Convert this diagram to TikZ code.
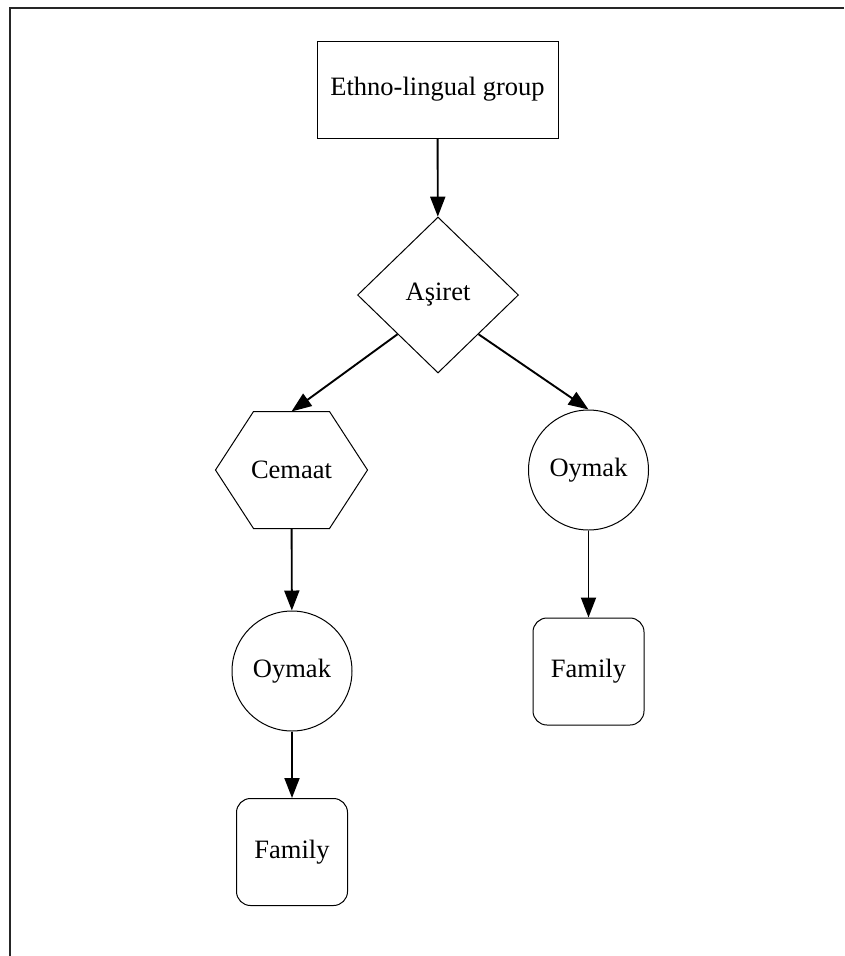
\documentclass[tikz,border=0pt]{standalone}
\usepackage{fontspec}
\setmainfont{Liberation Serif}
\usetikzlibrary{shapes.geometric,arrows.meta}
\begin{document}
\begin{tikzpicture}[x=1pt,y=-1pt,
  lbl/.style={font=\fontsize{26.5}{31}\selectfont, inner sep=0pt, line width=1pt},
  boxnode/.style={lbl, draw, minimum width=241pt, minimum height=97pt},
  dianode/.style={lbl, draw, diamond, minimum width=161pt, minimum height=156pt, aspect=1.03},
  hexnode/.style={lbl, minimum width=151pt, minimum height=116pt},
  circnode/.style={lbl, draw, circle, minimum size=120pt},
  famnode/.style={lbl, draw, rounded corners=14pt, minimum width=111pt, minimum height=107pt},
  edge/.style={line width=1.9pt, -{Triangle[length=20pt,width=15pt]}},
  frame/.style={line width=2pt, black!85}]
\useasboundingbox (0,0) rectangle (844,956);
\draw[frame] (844,8) -- (10,8) -- (10,956);

\node[boxnode] (eth) at (437.5,89.5) {Ethno-lingual group};
\node[dianode] (asi) at (438,295) {Aşiret};
\node[hexnode] (cem) at (291.5,470) {Cemaat};
\draw[line width=1pt] (cem.west) -- ([xshift=38pt]cem.north west) -- ([xshift=-38pt]cem.north east)
  -- (cem.east) -- ([xshift=-38pt]cem.south east) -- ([xshift=38pt]cem.south west) -- cycle;
\node[circnode] (oy1) at (588.5,470) {Oymak};
\node[circnode] (oy2) at (292,671) {Oymak};
\node[famnode] (fam1) at (588.5,671.5) {Family};
\node[famnode] (fam2) at (292,852) {Family};

\draw[edge] (eth) -- (asi);
\draw[edge] (asi.south west) -- (cem.north);
\draw[edge] (asi.south east) -- (oy1.north);
\draw[edge] (cem) -- (oy2);
\draw[edge] (oy2) -- (fam2);
\draw[edge] (oy1) -- (fam1);
\end{tikzpicture}
\end{document}
